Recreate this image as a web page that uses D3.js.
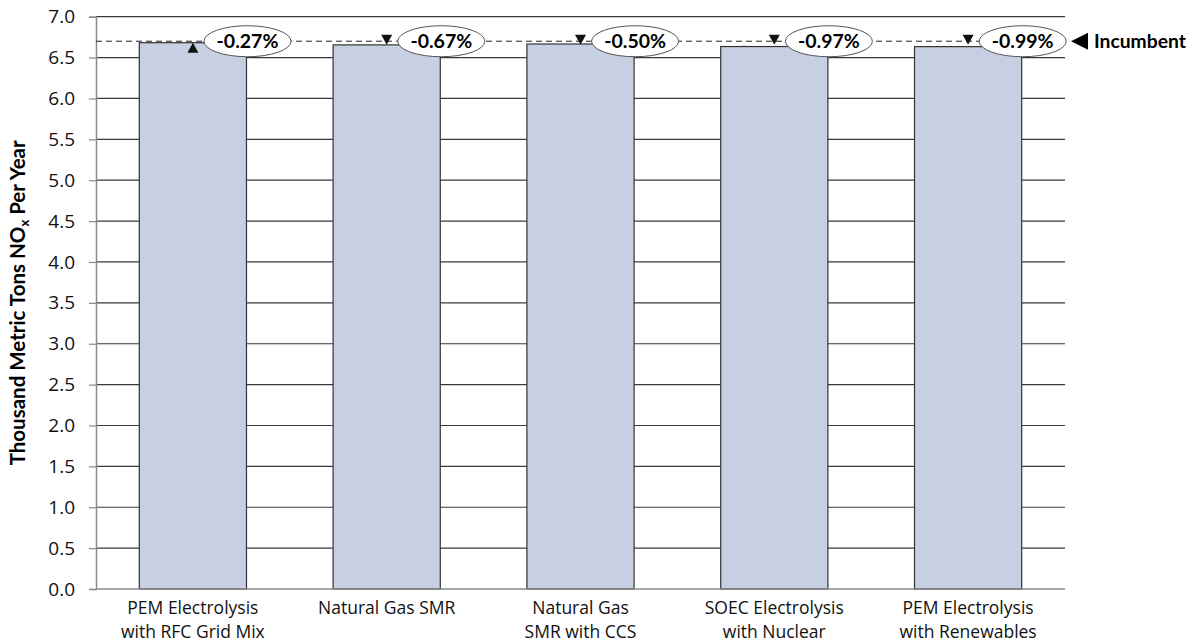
<!DOCTYPE html>
<html>
<head>
<meta charset="utf-8">
<script src="https://cdn.jsdelivr.net/npm/d3@7"></script>
<style>
  body { margin: 0; background: #fff; }
  text { font-family: Lato, "Open Sans", sans-serif; }
</style>
</head>
<body>
<svg id="chart" width="1195" height="643"></svg>
<script>
const categories = [
  ["PEM Electrolysis", "with RFC Grid Mix"],
  ["Natural Gas SMR"],
  ["Natural Gas", "SMR with CCS"],
  ["SOEC Electrolysis", "with Nuclear"],
  ["PEM Electrolysis", "with Renewables"]
];
const values = [6.682, 6.655, 6.666, 6.635, 6.634];
const incumbent = 6.70;
const pctLabels = ["-0.27%", "-0.67%", "-0.50%", "-0.97%", "-0.99%"];
const arrowDir = ["up", "down", "down", "down", "down"];
const yTicks = [0, 0.5, 1, 1.5, 2, 2.5, 3, 3.5, 4, 4.5, 5, 5.5, 6, 6.5, 7];

const svg = d3.select("#chart");
const margin = {left: 96, right: 130, top: 16.7, bottom: 54};
const W = 1195, H = 643;
const x = d3.scaleBand().domain(d3.range(categories.length))
  .range([margin.left, W - margin.right]).paddingInner(0.447).paddingOuter(0.2235);
const y = d3.scaleLinear().domain([0, 7]).range([H - margin.bottom, margin.top]);

// gridlines
svg.append("g").selectAll("line").data(yTicks.filter(d => d > 0)).join("line")
  .attr("x1", margin.left).attr("x2", W - margin.right)
  .attr("y1", d => y(d)).attr("y2", d => y(d))
  .attr("stroke", "#3a3a3a").attr("stroke-width", 1.2);

// y axis
const yAxis = d3.axisLeft(y).tickValues(yTicks).tickFormat(d3.format(".1f")).tickSize(7).tickPadding(14);
const gy = svg.append("g").attr("transform", `translate(${margin.left},0)`).call(yAxis);
gy.select(".domain").attr("stroke", "#8a8a8a").attr("stroke-width", 1.5);
gy.selectAll(".tick line").attr("stroke", "#8a8a8a").attr("stroke-width", 1.2);
gy.selectAll(".tick text").attr("font-size", 19).attr("fill", "#111")
  .style("font-family", "'Open Sans', sans-serif");

// bars
svg.append("g").selectAll("rect").data(values).join("rect")
  .attr("x", (d, i) => x(i)).attr("width", x.bandwidth())
  .attr("y", d => y(d)).attr("height", d => y(0) - y(d))
  .attr("fill", "#c6d0e2").attr("stroke", "#333").attr("stroke-width", 1.2);

// x axis baseline
svg.append("line").attr("x1", margin.left).attr("x2", W - margin.right)
  .attr("y1", y(0)).attr("y2", y(0)).attr("stroke", "#8a8a8a").attr("stroke-width", 1.5);

// x labels
const xl = svg.append("g").selectAll("text").data(categories).join("text")
  .attr("x", (d, i) => x(i) + x.bandwidth() / 2)
  .attr("y", y(0) + 25).attr("text-anchor", "middle")
  .attr("font-size", 17.5).attr("fill", "#111")
  .style("font-family", "'Open Sans', sans-serif");
xl.selectAll("tspan").data(d => d).join("tspan")
  .attr("x", function() { return this.parentNode.getAttribute("x"); })
  .attr("dy", (d, i) => i === 0 ? 0 : 24).text(d => d);

// incumbent dashed line
svg.append("line").attr("x1", margin.left).attr("x2", W - margin.right)
  .attr("y1", y(incumbent)).attr("y2", y(incumbent))
  .attr("stroke", "#222").attr("stroke-width", 1).attr("stroke-dasharray", "6,4");

// triangles
svg.append("g").selectAll("path").data(values).join("path")
  .attr("d", (d, i) => {
    const cx = x(i) + x.bandwidth() / 2;
    if (arrowDir[i] === "up") {
      const yb = y(d) + 10;
      return `M${cx - 5.5},${yb} L${cx + 5.5},${yb} L${cx},${yb - 10} Z`;
    } else {
      const yt = y(incumbent) - 6.5;
      return `M${cx - 5.5},${yt} L${cx + 5.5},${yt} L${cx},${yt + 10} Z`;
    }
  }).attr("fill", "#111");

// ellipse labels
const lab = svg.append("g").selectAll("g").data(pctLabels).join("g")
  .attr("transform", (d, i) => `translate(${x(i) + x.bandwidth() + 1},${y(incumbent)})`);
lab.append("ellipse").attr("rx", 43.5).attr("ry", 15.5)
  .attr("fill", "#fff").attr("stroke", "#555").attr("stroke-width", 1);
lab.append("text").attr("text-anchor", "middle").attr("dy", "0.36em")
  .attr("font-size", 19.5).attr("font-weight", "bold").attr("fill", "#000").text(d => d);

// incumbent legend
const ix = W - margin.right + 6;
svg.append("path")
  .attr("d", `M${ix},${y(incumbent)} L${ix + 17},${y(incumbent) - 8.5} L${ix + 17},${y(incumbent) + 8.5} Z`)
  .attr("fill", "#000");
svg.append("text").attr("x", ix + 23).attr("y", y(incumbent)).attr("dy", "0.36em")
  .attr("font-size", 19.3).attr("font-weight", "bold").attr("fill", "#000").text("Incumbent");

// y title
const yt = svg.append("text")
  .attr("transform", `translate(25,${(y(0) + y(7)) / 2}) rotate(-90)`)
  .attr("text-anchor", "middle").attr("font-size", 20.5).attr("font-weight", "bold").attr("fill", "#000");
yt.append("tspan").text("Thousand Metric Tons NO");
yt.append("tspan").attr("font-size", 13).attr("dy", 4).text("x");
yt.append("tspan").attr("dy", -4).text(" Per Year");
</script>
</body>
</html>
